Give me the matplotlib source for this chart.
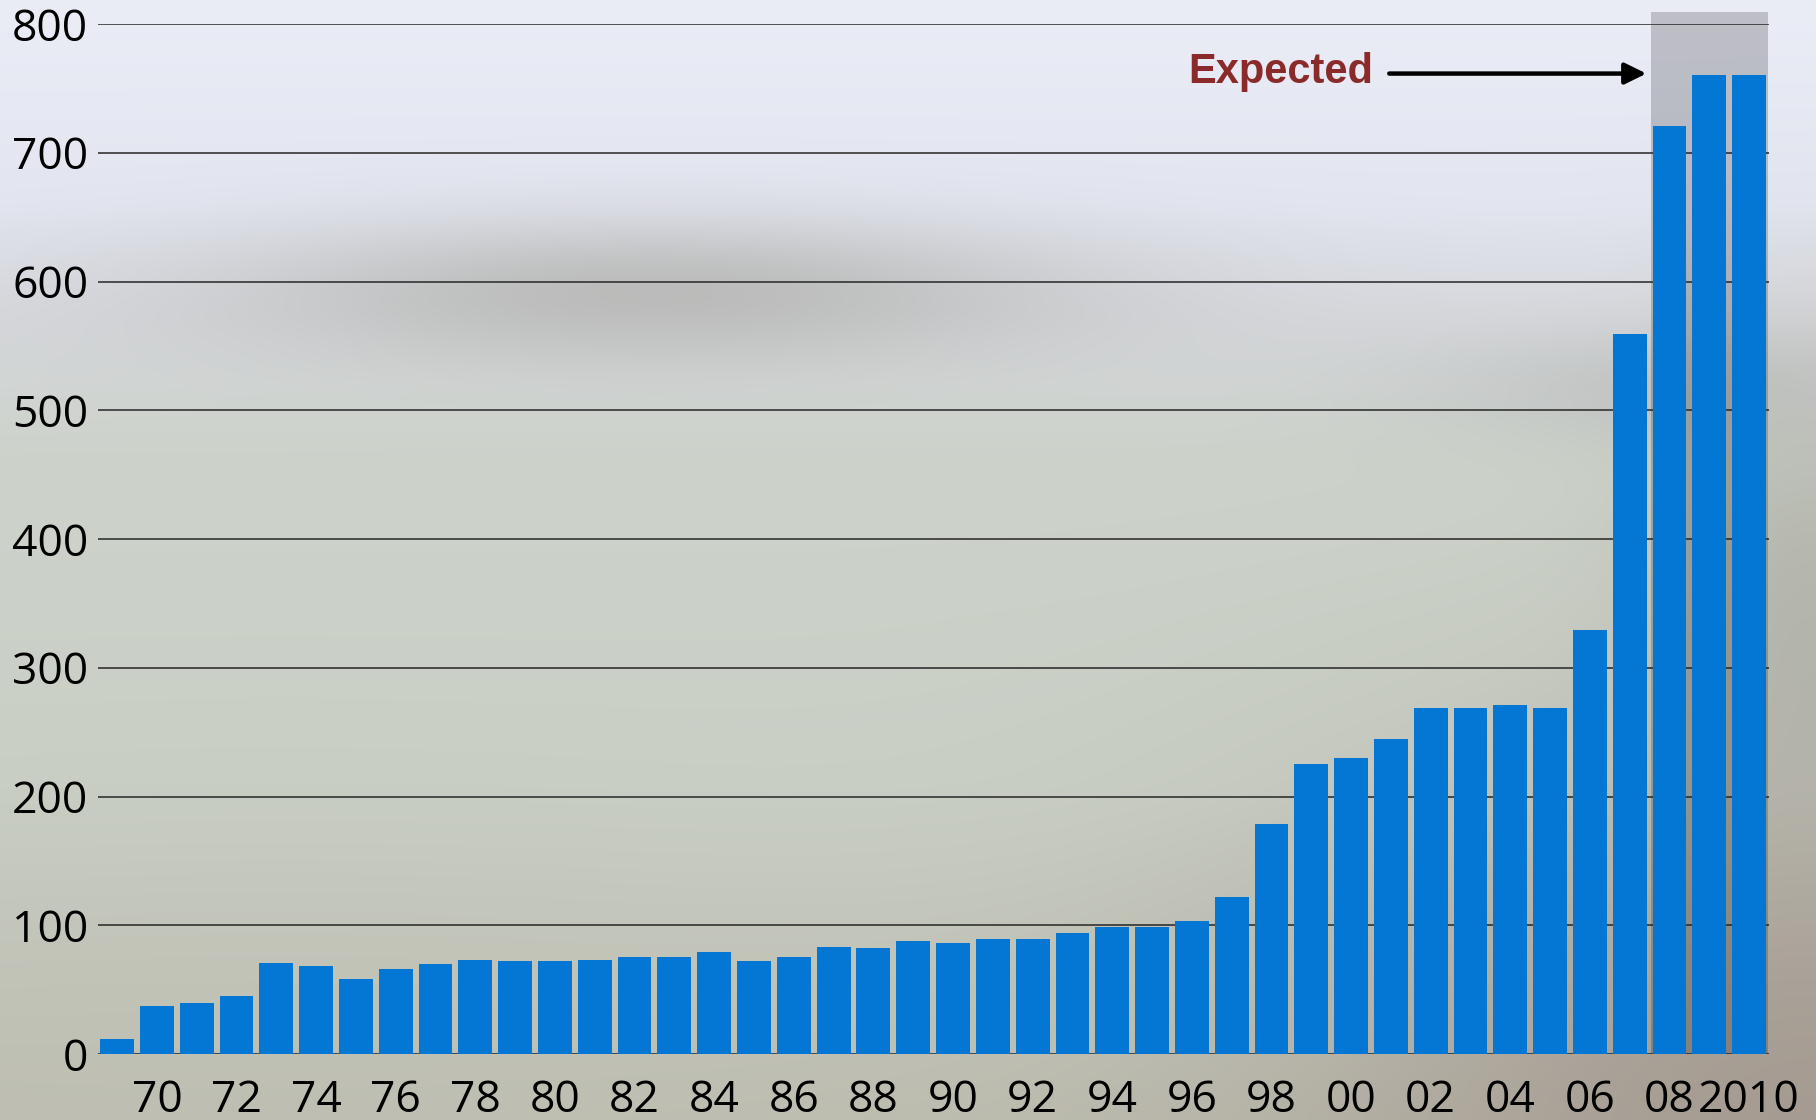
import numpy as np
import matplotlib

matplotlib.use("Agg")
import matplotlib.pyplot as plt
from matplotlib import font_manager
from matplotlib.colors import to_rgb

years = list(range(1969, 2011))
counts = [12, 37, 40, 45, 71, 68, 58, 66, 70, 73, 72, 72, 73, 75, 75, 79, 72,
          75, 83, 82, 88, 86, 89, 89, 94, 99, 99, 103, 122, 179, 225, 230, 245,
          269, 269, 271, 269, 329, 559, 721, 760, 760]
tick_years = list(range(1970, 2011, 2))
tick_labels = ["70", "72", "74", "76", "78", "80", "82", "84", "86", "88", "90",
               "92", "94", "96", "98", "00", "02", "04", "06", "08", "2010"]
expected_years = [2008, 2009, 2010]
expected_label = "Expected"


def pick_font(*names):
    installed = {f.name for f in font_manager.fontManager.ttflist}
    for name in names:
        if name in installed:
            return name
    return "DejaVu Sans"


def backdrop(h=112, w=182):
    # soft blurred-photo style backdrop
    yy, xx = np.mgrid[0:1:h * 1j, 0:1:w * 1j]
    stops = [0.0, 0.18, 0.29, 0.40, 0.70, 1.0]
    cols = [to_rgb(c) for c in ["#eaecf6", "#e3e5f0", "#d6d8dc", "#cdd3cb", "#cad0c6", "#bdbdb0"]]
    img = np.zeros((h, w, 3))
    for ch in range(3):
        img[..., ch] = np.interp(yy, stops, [c[ch] for c in cols])

    def blob(cx, cy, sx, sy, color, weight):
        g = weight * np.exp(-((xx - cx) ** 2 / (2 * sx ** 2) + (yy - cy) ** 2 / (2 * sy ** 2)))
        c = np.array(to_rgb(color))
        return img * (1 - g[..., None]) + c * g[..., None]

    img = blob(0.36, 0.26, 0.17, 0.045, "#b5b6b3", 0.85)
    img = blob(0.92, 0.345, 0.10, 0.035, "#babdbd", 0.6)
    img = blob(1.0, 0.55, 0.06, 0.15, "#adaea5", 0.7)
    img = blob(1.0, 1.0, 0.20, 0.22, "#a3988f", 0.9)
    img = blob(0.15, 0.95, 0.25, 0.15, "#c0c1b5", 0.5)
    return np.clip(img, 0, 1)


tick_font = pick_font("Open Sans", "Noto Sans", "Liberation Sans")
label_font = pick_font("Liberation Sans", "Arimo", "DejaVu Sans")

fig = plt.figure(figsize=(18.16, 11.20), dpi=100)

bg = fig.add_axes([0, 0, 1, 1], zorder=-10)
bg.imshow(backdrop(), aspect="auto", interpolation="bicubic", extent=[0, 1, 0, 1])
bg.axis("off")

ax = fig.add_axes([98 / 1816, 66 / 1120, 1671 / 1816, 1030 / 1120])
ax.set_facecolor("none")

# shaded band behind the projected years
ax.bar(np.mean(expected_years), 809, width=2.93, color="black", alpha=0.19,
       zorder=0.3, clip_on=False, linewidth=0)

ax.bar(years, counts, width=0.85, color="#0476d4", zorder=2, linewidth=0)

ax.set_xlim(1968.52, 2010.5)
ax.set_ylim(0, 800)
ax.set_yticks(range(0, 801, 100))
ax.set_xticks(tick_years)
ax.set_xticklabels(tick_labels)
ax.set_axisbelow(True)
ax.grid(axis="y", color="#262626", linewidth=1.1)
for side in ax.spines.values():
    side.set_visible(False)

ax.tick_params(axis="both", length=0, labelsize=32, labelcolor="black")
ax.tick_params(axis="y", pad=7)
ax.tick_params(axis="x", pad=18)
for lbl in ax.get_xticklabels() + ax.get_yticklabels():
    lbl.set_fontfamily(tick_font)

ax.text(2000.56, 754, expected_label, ha="right", va="baseline", fontsize=30,
        fontweight="bold", color="#8b2a2a", family=label_font)
ax.annotate("", xy=(2007.42, 761.5), xytext=(2000.96, 761.5),
            arrowprops=dict(arrowstyle="-|>,head_length=0.65,head_width=0.32",
                            mutation_scale=20, lw=3.2, color="black",
                            shrinkA=0, shrinkB=0))

fig.savefig("out.png", dpi=100)
plt.close(fig)
